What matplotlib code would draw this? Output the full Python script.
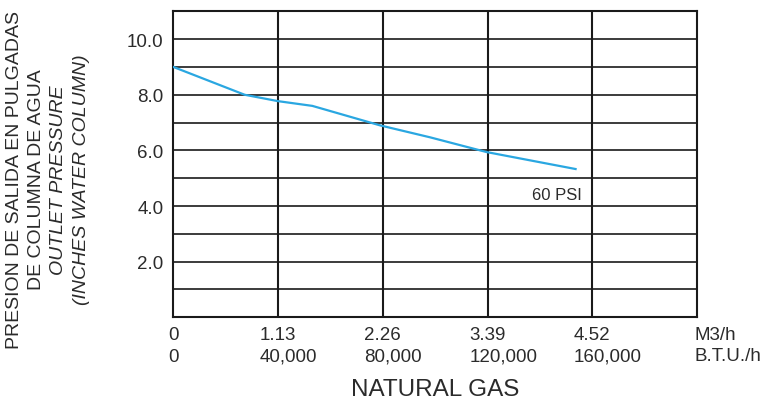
import matplotlib
matplotlib.use("Agg")
import matplotlib.pyplot as plt

plt.rcParams['font.family'] = ['Liberation Sans', 'DejaVu Sans']

# Data
flow_m3h = [0.0, 0.77, 1.13, 1.5, 2.23, 2.77, 3.38, 4.34]
pressure = [9.0, 8.0, 7.77, 7.6, 6.9, 6.47, 5.94, 5.33]

x_ticks_m3h = [0, 1.13, 2.26, 3.39, 4.52]
x_labels_m3h = ["0", "1.13", "2.26", "3.39", "4.52"]
x_labels_btu = ["0", "40,000", "80,000", "120,000", "160,000"]
y_ticks = [0, 1, 2, 3, 4, 5, 6, 7, 8, 9, 10, 11]
y_labels = ["", "", "2.0", "", "4.0", "", "6.0", "", "8.0", "", "10.0", ""]
series_label = "60 PSI"

TXT = '#2b2b2b'
W, H = 767, 402
fig = plt.figure(figsize=(W / 100, H / 100), dpi=100)
fig.patch.set_facecolor('white')
ax = fig.add_axes([173.3 / W, 1 - 318.3 / H, (697 - 173.3) / W, (318.3 - 12.3) / H])

ax.set_xlim(0, 5.65)
ax.set_ylim(0, 11)

# grid
for xv in x_ticks_m3h[1:]:
    ax.axvline(xv, color='#1a1a1a', lw=1.5, zorder=1)
for yv in y_ticks[1:]:
    ax.axhline(yv, color='#1a1a1a', lw=1.2, zorder=1)
for s in ax.spines.values():
    s.set_linewidth(1.5)
    s.set_color('#1a1a1a')

ax.plot(flow_m3h, pressure, color='#2aa7e1', lw=1.6, zorder=3)
ax.text(4.41, 4.43, series_label, ha='right', va='center', fontsize=12, color=TXT)

ax.set_yticks(y_ticks)
ax.set_yticklabels(y_labels, fontsize=13.5, color=TXT)
ax.tick_params(axis='y', length=0, pad=7)
ax.set_xticks(x_ticks_m3h)
ax.set_xticklabels(x_labels_m3h, fontsize=13.5, color=TXT)
ax.tick_params(axis='x', length=0, pad=6)

fig.canvas.draw()
renderer = fig.canvas.get_renderer()
inv = fig.transFigure.inverted()
for lab, btu in zip(ax.get_xticklabels(), x_labels_btu):
    bb = lab.get_window_extent(renderer)
    x0, y0 = inv.transform((bb.x0, bb.y0))
    fig.text(x0, y0 - 22 / H, btu, ha='left', va='bottom',
             fontsize=13.5, color=TXT)

fig.text(695 / W, 1 - 335 / H, "M3/h", ha='left', va='center', fontsize=13.5, color=TXT)
fig.text(695 / W, 1 - 357 / H, "B.T.U./h", ha='left', va='center', fontsize=13.5, color=TXT)

fig.text(435 / W, 1 - 390 / H, "NATURAL GAS", ha='center', va='center', fontsize=17.5, color=TXT)

ylines = [("PRESION DE SALIDA EN PULGADAS", 'normal', 15),
          ("DE COLUMNA DE AGUA", 'normal', 37),
          ("OUTLET PRESSURE", 'italic', 59),
          ("(INCHES WATER COLUMN)", 'italic', 82)]
for txt, st, xp in ylines:
    fig.text(xp / W, 1 - 180 / H, txt, rotation=90, ha='center', va='center',
             fontsize=14, style=st, color=TXT)

fig.savefig('out.png', dpi=100, facecolor='white')
